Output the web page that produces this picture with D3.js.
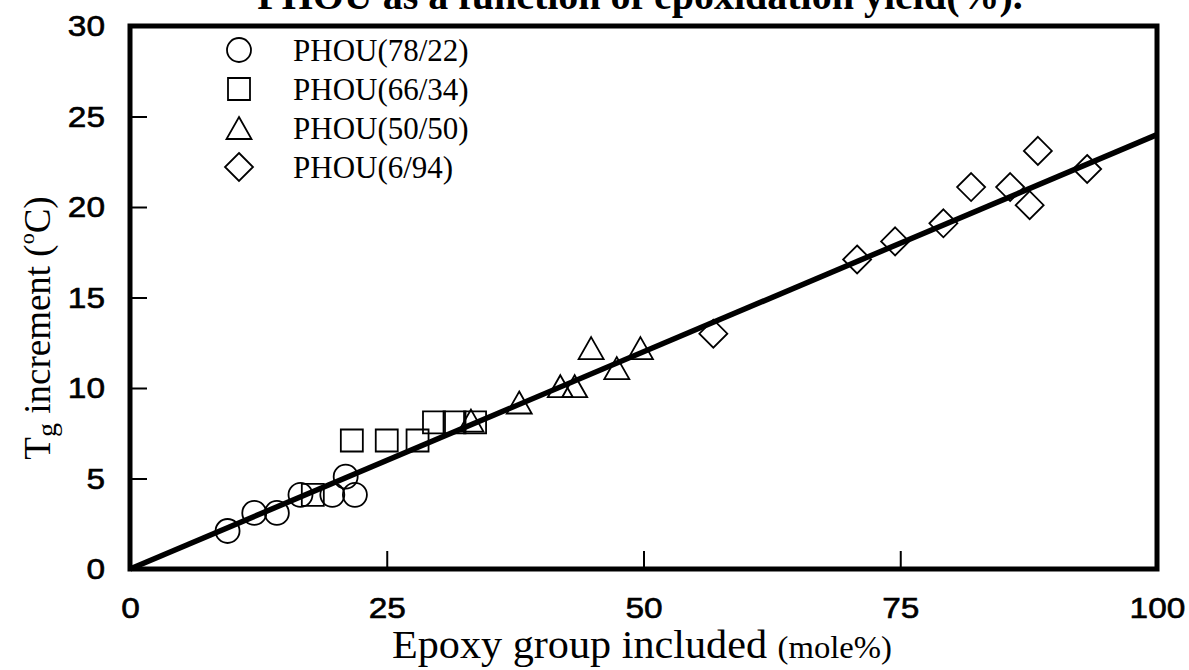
<!DOCTYPE html>
<html><head><meta charset="utf-8">
<script src="https://cdn.jsdelivr.net/npm/d3@7"></script>
<style>body{margin:0;background:#fff}</style>
</head><body>
<svg id="chart" width="1189" height="670"></svg>
<script>
// ---- data ----
const xTicks = [0, 25, 50, 75, 100];
const yTicks = [0, 5, 10, 15, 20, 25, 30];
const seriesNames = ["PHOU(78/22)", "PHOU(66/34)", "PHOU(50/50)", "PHOU(6/94)"];
const circleX = [9.5, 12.1, 14.3, 16.6, 19.7, 21.0, 21.9];
const circleY = [2.1, 3.1, 3.1, 4.1, 4.1, 5.1, 4.1];
const squareX = [17.8, 21.6, 25.0, 28.0, 29.6, 31.6, 33.6];
const squareY = [4.1, 7.1, 7.1, 7.1, 8.1, 8.1, 8.1];
const triangleX = [33.2, 37.9, 41.9, 43.3, 44.9, 47.4, 49.7];
const triangleY = [8.2, 9.2, 10.1, 10.1, 12.2, 11.1, 12.2];
const diamondX = [56.8, 70.8, 74.5, 79.2, 81.9, 85.7, 87.6, 88.4, 93.2];
const diamondY = [13.0, 17.1, 18.1, 19.1, 21.1, 21.1, 20.1, 23.1, 22.1];
const fitX = [0, 100];
const fitY = [0, 24];

// ---- layout ----
const svg = d3.select("#chart");
const x = d3.scaleLinear().domain([0, 100]).range([130, 1157]);
const y = d3.scaleLinear().domain([0, 30]).range([569, 26]);
const serif = "'Liberation Serif','Times New Roman',serif";
const sans = "'Liberation Sans',Arial,Helvetica,sans-serif";

// marker shapes
const shapes = {
  circle: "M12,0A12,12 0 1,1 -12,0A12,12 0 1,1 12,0Z",
  square: "M-11,-11H11V11H-11Z",
  triangle: "M0,-11L12.5,11H-12.5Z",
  diamond: "M0,-14L14,0L0,14L-14,0Z"
};
const series = [
  {name: seriesNames[0], shape: "circle", xs: circleX, ys: circleY},
  {name: seriesNames[1], shape: "square", xs: squareX, ys: squareY},
  {name: seriesNames[2], shape: "triangle", xs: triangleX, ys: triangleY},
  {name: seriesNames[3], shape: "diamond", xs: diamondX, ys: diamondY}
];

// title (partly cut off at top, as in the reference)
svg.append("text")
  .attr("x", 640).attr("y", 9)
  .attr("text-anchor", "middle")
  .attr("font-family", serif).attr("font-weight", "bold").attr("font-size", 40)
  .text("PHOU as a function of epoxidation yield(%).");

// axes
const gx = svg.append("g").attr("transform", `translate(0,${y(0)})`)
  .call(d3.axisBottom(x).tickValues(xTicks).tickSize(-18).tickPadding(28).tickFormat(d3.format("d")));
const gy = svg.append("g").attr("transform", `translate(${x(0)},0)`)
  .call(d3.axisLeft(y).tickValues(yTicks).tickSize(-17).tickPadding(25).tickFormat(d3.format("d")));
[gx, gy].forEach(g => {
  g.select(".domain").remove();
  g.selectAll(".tick line").attr("stroke", "#000").attr("stroke-width", 2);
  g.selectAll(".tick text").attr("font-family", sans).attr("font-size", 30)
    .attr("fill", "#000").attr("stroke", "#000").attr("stroke-width", 0.6)
    .attr("textLength", d => String(d).length * 18.6)
    .attr("lengthAdjust", "spacingAndGlyphs");
});
gx.selectAll(".tick line").filter(d => d === 0 || d === 100).remove();
gy.selectAll(".tick line").filter(d => d === 0 || d === 30).remove();

// markers
series.forEach(s => {
  svg.append("g").selectAll("path")
    .data(s.xs.map((v, i) => [v, s.ys[i]]))
    .join("path")
    .attr("d", shapes[s.shape])
    .attr("transform", d => `translate(${x(d[0])},${y(d[1])})`)
    .attr("fill", "none").attr("stroke", "#000").attr("stroke-width", 1.8);
});

// fitted line
svg.append("path")
  .datum(fitX.map((v, i) => [v, fitY[i]]))
  .attr("d", d3.line().x(d => x(d[0])).y(d => y(d[1])))
  .attr("stroke", "#000").attr("stroke-width", 5.5).attr("fill", "none");

// frame
svg.append("rect")
  .attr("x", x(0)).attr("y", y(30))
  .attr("width", x(100) - x(0)).attr("height", y(0) - y(30))
  .attr("fill", "none").attr("stroke", "#000").attr("stroke-width", 5);

// legend
const legendY = [50, 89, 128, 167];
series.forEach((s, i) => {
  svg.append("path").attr("d", shapes[s.shape])
    .attr("transform", `translate(239,${legendY[i]})`)
    .attr("fill", "none").attr("stroke", "#000").attr("stroke-width", 1.8);
  svg.append("text").attr("x", 293).attr("y", legendY[i] + 11)
    .attr("font-family", serif).attr("font-size", 31).attr("fill", "#000")
    .text(s.name);
});

// x axis title
const xt = svg.append("text").attr("x", 392).attr("y", 658)
  .attr("font-family", serif).attr("font-size", 40).attr("fill", "#000")
  .attr("textLength", 500).attr("lengthAdjust", "spacingAndGlyphs");
xt.append("tspan").text("Epoxy group included ");
xt.append("tspan").attr("font-size", 31).text("(mole%)");

// y axis title
const yt = svg.append("text")
  .attr("transform", "translate(50,328) rotate(-90)")
  .attr("text-anchor", "middle")
  .attr("font-family", serif).attr("font-size", 37).attr("fill", "#000");
yt.append("tspan").text("T");
yt.append("tspan").attr("font-size", 28).attr("dy", 6).text("g");
yt.append("tspan").attr("dy", -6).text(" increment (");
yt.append("tspan").attr("font-size", 22).attr("dy", -16).text("o");
yt.append("tspan").attr("dy", 16).text("C)");
</script>
</body></html>
